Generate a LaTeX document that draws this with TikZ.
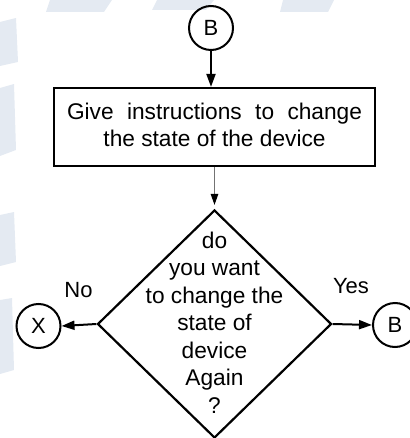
\documentclass[tikz,border=0pt]{standalone}
\usepackage{fontspec}
\setmainfont{Liberation Sans}
\usetikzlibrary{shapes.geometric,arrows.meta}
\definecolor{wmark}{RGB}{228,234,242}

\begin{document}
\begin{tikzpicture}[x=1pt,y=-1pt,
  every node/.style={font=\fontsize{22.7}{27.5}\selectfont},
  conn/.style={draw,circle,line width=2pt,minimum size=44pt,inner sep=0pt,
               font=\fontsize{22}{26}\selectfont},
  procbox/.style={draw,rectangle,line width=2.2pt,minimum width=321pt,
                  minimum height=78pt,inner sep=0pt},
  decision/.style={draw,diamond,line width=2.2pt,minimum width=234pt,
                   minimum height=228pt,inner sep=0pt},
  txt/.style={align=center,inner sep=0pt},
  flow/.style={line width=2pt,-{Triangle[length=13pt,width=9pt]}},
  thinflow/.style={line width=1pt,draw=black!55,
                   -{Triangle[length=11pt,width=7.5pt,color=black]}},
  lbl/.style={anchor=base,inner sep=0pt,font=\fontsize{22}{26}\selectfont}
]
\useasboundingbox (0,0) rectangle (409,438);

% faint background watermark
\fill[wmark] (50,0) -- (112,0) -- (104,12) -- (46,12) -- cycle;
\fill[wmark] (157,0) -- (214,0) -- (206,10) -- (152,10) -- cycle;
\fill[wmark] (283,0) -- (334,0) -- (328,12) -- (280,12) -- cycle;
\fill[wmark] (0,22) -- (16,18) -- (18,62) -- (0,66) -- cycle;
\fill[wmark] (0,88) -- (14,84) -- (16,150) -- (0,156) -- cycle;
\fill[wmark] (0,215) -- (14,212) -- (16,262) -- (0,266) -- cycle;
\fill[wmark] (0,300) -- (12,298) -- (14,370) -- (0,374) -- cycle;

% connectors (circles)
\node[conn] (top) at (211,28) {B};
\node[conn] (stop) at (38.5,326) {X};
\node[conn] (again) at (395,325) {B};

% process box
\node[procbox] (act) at (214.5,127) {};
\node[txt] (acttext) at (214.5,125)
  {\makebox[295pt][s]{Give instructions to change}\\the state of the device};

% decision
\node[decision] (ask) at (214.5,324) {};
\node[txt] (asktext) at (214.5,322.3)
  {do\\you want\\to change the\\state of\\device\\Again\\?};

% flow lines
\draw[flow] (top.south) -- (top.south |- act.north);
\draw[thinflow,shorten >=4pt] (act.south) -- (ask.north);
\draw[flow] (ask.west) -- (stop.east);
\draw[flow] (ask.east) -- (again.west);

% branch labels
\node[lbl] (no) at (78.5,297) {No};
\node[lbl] (yes) at (351,293) {Yes};
\end{tikzpicture}
\end{document}
